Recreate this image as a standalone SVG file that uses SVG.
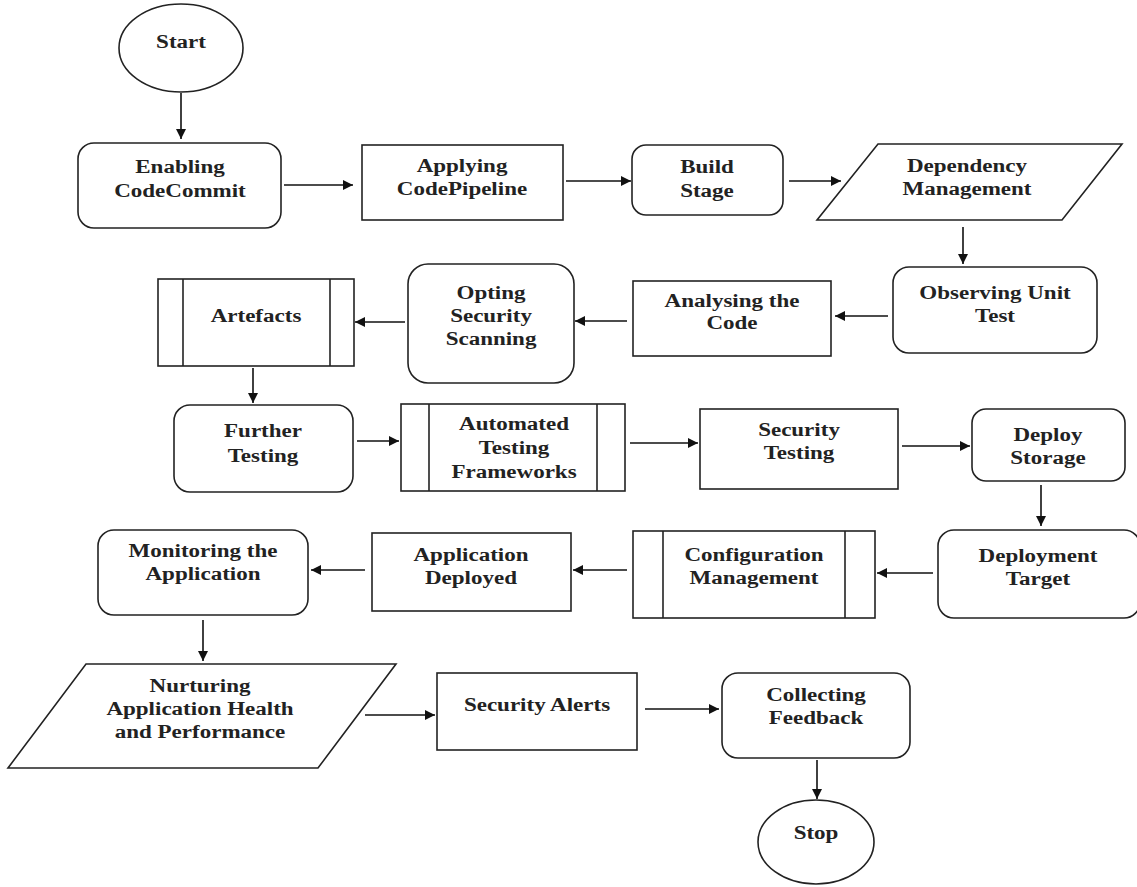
<svg xmlns="http://www.w3.org/2000/svg" width="1137" height="887" viewBox="0 0 1137 887">
<style>
.s{fill:#fff;stroke:#222;stroke-width:1.6}
.l{fill:none;stroke:#222;stroke-width:1.6}
.t{font-family:"Liberation Serif","Times New Roman",serif;font-weight:bold;font-size:19.5px;fill:#222;text-anchor:middle}
.c{stroke:#111;stroke-width:1.6;fill:none;marker-end:url(#ah)}
</style>
<defs>
<marker id="ah" viewBox="0 0 10 10" refX="10" refY="5" markerWidth="10" markerHeight="10" markerUnits="userSpaceOnUse" orient="auto">
<path d="M0,0 L10,5 L0,10 z" fill="#111"/>
</marker>
</defs>
<rect width="1137" height="887" fill="#fff"/>
<g id="connectors">
<line class="c" x1="181" y1="93" x2="181" y2="139"/>
<line class="c" x1="284" y1="185" x2="353" y2="185"/>
<line class="c" x1="566" y1="181" x2="631" y2="181"/>
<line class="c" x1="789" y1="181" x2="841" y2="181"/>
<line class="c" x1="963" y1="227" x2="963" y2="264"/>
<line class="c" x1="888" y1="316" x2="835" y2="316"/>
<line class="c" x1="627" y1="321" x2="575" y2="321"/>
<line class="c" x1="405" y1="322" x2="355" y2="322"/>
<line class="c" x1="253" y1="368" x2="253" y2="403"/>
<line class="c" x1="357" y1="441" x2="399" y2="441"/>
<line class="c" x1="630" y1="443" x2="698" y2="443"/>
<line class="c" x1="902" y1="446" x2="970" y2="446"/>
<line class="c" x1="1041" y1="485" x2="1041" y2="526"/>
<line class="c" x1="933" y1="573" x2="877" y2="573"/>
<line class="c" x1="627" y1="570" x2="573" y2="570"/>
<line class="c" x1="365" y1="570" x2="311" y2="570"/>
<line class="c" x1="203" y1="620" x2="203" y2="661"/>
<line class="c" x1="365" y1="715" x2="435" y2="715"/>
<line class="c" x1="645" y1="709" x2="719" y2="709"/>
<line class="c" x1="817" y1="760" x2="817" y2="799"/>
</g>
<g id="start">
<ellipse class="s" cx="181" cy="48" rx="62" ry="44"/>
<text class="t" transform="translate(181 48) scale(1.18 1)">Start</text>
</g>
<g id="enabling">
<rect class="s" x="78" y="143" width="203" height="85" rx="16"/>
<text class="t" transform="translate(180 173) scale(1.18 1)">Enabling</text>
<text class="t" transform="translate(180 197) scale(1.18 1)">CodeCommit</text>
</g>
<g id="applying">
<rect class="s" x="362" y="145" width="201" height="75"/>
<text class="t" transform="translate(462 172) scale(1.18 1)">Applying</text>
<text class="t" transform="translate(462 195) scale(1.18 1)">CodePipeline</text>
</g>
<g id="build">
<rect class="s" x="632" y="145" width="151" height="70" rx="14"/>
<text class="t" transform="translate(707 173) scale(1.18 1)">Build</text>
<text class="t" transform="translate(707 197) scale(1.18 1)">Stage</text>
</g>
<g id="dependency">
<polygon class="s" points="878,144 1122,144 1062,220 817,220"/>
<text class="t" transform="translate(967 172) scale(1.18 1)">Dependency</text>
<text class="t" transform="translate(967 195) scale(1.18 1)">Management</text>
</g>
<g id="observing">
<rect class="s" x="893" y="267" width="204" height="86" rx="16"/>
<text class="t" transform="translate(995 299) scale(1.18 1)">Observing Unit</text>
<text class="t" transform="translate(995 322) scale(1.18 1)">Test</text>
</g>
<g id="analysing">
<rect class="s" x="633" y="281" width="198" height="75"/>
<text class="t" transform="translate(732 307) scale(1.18 1)">Analysing the</text>
<text class="t" transform="translate(732 329) scale(1.18 1)">Code</text>
</g>
<g id="opting">
<rect class="s" x="408" y="264" width="166" height="119" rx="20"/>
<text class="t" transform="translate(491 299) scale(1.18 1)">Opting</text>
<text class="t" transform="translate(491 322) scale(1.18 1)">Security</text>
<text class="t" transform="translate(491 345) scale(1.18 1)">Scanning</text>
</g>
<g id="artefacts">
<rect class="s" x="158" y="279" width="196" height="87"/>
<line class="l" x1="183" y1="279" x2="183" y2="366"/>
<line class="l" x1="330" y1="279" x2="330" y2="366"/>
<text class="t" transform="translate(256 322) scale(1.18 1)">Artefacts</text>
</g>
<g id="further">
<rect class="s" x="174" y="405" width="179" height="87" rx="16"/>
<text class="t" transform="translate(263 437) scale(1.18 1)">Further</text>
<text class="t" transform="translate(263 462) scale(1.18 1)">Testing</text>
</g>
<g id="automated">
<rect class="s" x="401" y="404" width="224" height="87"/>
<line class="l" x1="429" y1="404" x2="429" y2="491"/>
<line class="l" x1="597" y1="404" x2="597" y2="491"/>
<text class="t" transform="translate(514 430) scale(1.18 1)">Automated</text>
<text class="t" transform="translate(514 454) scale(1.18 1)">Testing</text>
<text class="t" transform="translate(514 478) scale(1.18 1)">Frameworks</text>
</g>
<g id="securitytesting">
<rect class="s" x="700" y="409" width="198" height="80"/>
<text class="t" transform="translate(799 436) scale(1.18 1)">Security</text>
<text class="t" transform="translate(799 459) scale(1.18 1)">Testing</text>
</g>
<g id="deploystorage">
<rect class="s" x="972" y="409" width="153" height="72" rx="14"/>
<text class="t" transform="translate(1048 441) scale(1.18 1)">Deploy</text>
<text class="t" transform="translate(1048 464) scale(1.18 1)">Storage</text>
</g>
<g id="deploymenttarget">
<rect class="s" x="938" y="530" width="202" height="88" rx="16"/>
<text class="t" transform="translate(1038 562) scale(1.18 1)">Deployment</text>
<text class="t" transform="translate(1038 585) scale(1.18 1)">Target</text>
</g>
<g id="configuration">
<rect class="s" x="633" y="531" width="242" height="87"/>
<line class="l" x1="663" y1="531" x2="663" y2="618"/>
<line class="l" x1="845" y1="531" x2="845" y2="618"/>
<text class="t" transform="translate(754 561) scale(1.18 1)">Configuration</text>
<text class="t" transform="translate(754 584) scale(1.18 1)">Management</text>
</g>
<g id="appdeployed">
<rect class="s" x="372" y="533" width="199" height="78"/>
<text class="t" transform="translate(471 561) scale(1.18 1)">Application</text>
<text class="t" transform="translate(471 584) scale(1.18 1)">Deployed</text>
</g>
<g id="monitoring">
<rect class="s" x="98" y="530" width="210" height="85" rx="16"/>
<text class="t" transform="translate(203 557) scale(1.18 1)">Monitoring the</text>
<text class="t" transform="translate(203 580) scale(1.18 1)">Application</text>
</g>
<g id="nurturing">
<polygon class="s" points="86,664 396,664 318,768 8,768"/>
<text class="t" transform="translate(200 692) scale(1.18 1)">Nurturing</text>
<text class="t" transform="translate(200 715) scale(1.18 1)">Application Health</text>
<text class="t" transform="translate(200 738) scale(1.18 1)">and Performance</text>
</g>
<g id="securityalerts">
<rect class="s" x="437" y="673" width="200" height="77"/>
<text class="t" transform="translate(537 711) scale(1.18 1)">Security Alerts</text>
</g>
<g id="collecting">
<rect class="s" x="722" y="673" width="188" height="85" rx="16"/>
<text class="t" transform="translate(816 701) scale(1.18 1)">Collecting</text>
<text class="t" transform="translate(816 724) scale(1.18 1)">Feedback</text>
</g>
<g id="stop">
<ellipse class="s" cx="816" cy="842" rx="58" ry="42"/>
<text class="t" transform="translate(816 839) scale(1.18 1)">Stop</text>
</g>
</svg>
